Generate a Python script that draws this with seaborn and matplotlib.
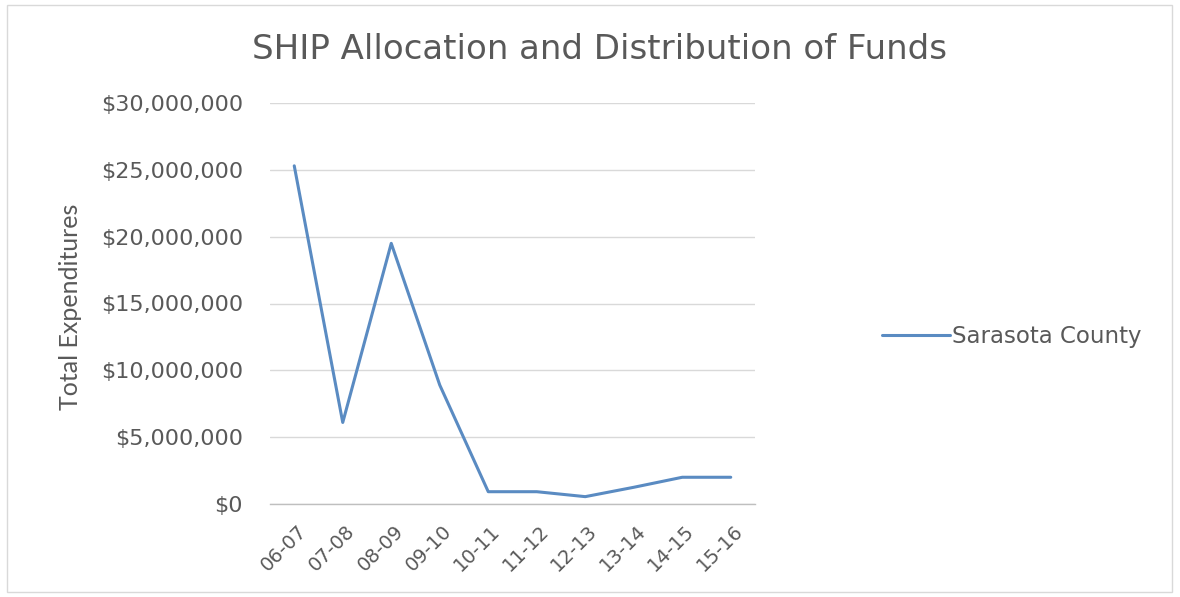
import matplotlib
matplotlib.use("Agg")
import matplotlib.pyplot as plt
import matplotlib.transforms as mtransforms
from matplotlib.patches import Rectangle
from matplotlib.ticker import FuncFormatter, MultipleLocator
import seaborn as sns
import pandas as pd

years = ["06-07", "07-08", "08-09", "09-10", "10-11", "11-12", "12-13", "13-14", "14-15", "15-16"]
sarasota = [25300000, 6100000, 19500000, 8900000, 920000, 920000, 550000, 1250000, 2000000, 2000000]
series_name = "Sarasota County"

df = pd.DataFrame({"Year": years, "Total": sarasota, "Series": series_name})

sns.set_theme(style="white")
plt.rcParams['font.family'] = ['DejaVu Sans']

grey_text = "#595959"
line_color = "#5A8BC2"

fig = plt.figure(figsize=(11.8, 5.97), dpi=100)
ax = fig.add_axes([270/1180, 93/597, 485/1180, 401/597])

sns.lineplot(data=df, x="Year", y="Total", hue="Series", palette=[line_color],
             linewidth=2.2, ax=ax, sort=False, legend=True)

ax.set_xlim(-0.5, len(years) - 0.5)
ax.set_ylim(0, 30000000)
ax.yaxis.set_major_locator(MultipleLocator(5000000))
ax.yaxis.set_major_formatter(FuncFormatter(lambda v, p: "${:,.0f}".format(v)))
ax.grid(axis="y", color="#D9D9D9", linewidth=1)
ax.set_axisbelow(True)
for s in ["top", "right", "left"]:
    ax.spines[s].set_visible(False)
ax.spines["bottom"].set_color("#BFBFBF")
ax.spines["bottom"].set_linewidth(1)

ax.tick_params(axis="y", length=0, pad=19.5, labelsize=16, labelcolor=grey_text)
ax.tick_params(axis="x", length=0, pad=0, labelsize=14, labelcolor=grey_text)
ax.set_xticks(range(len(years)))
ax.set_xticklabels(years, rotation=45, ha="right", va="center", rotation_mode="anchor")
offset = mtransforms.ScaledTranslation(9/100, -24/100, fig.dpi_scale_trans)
for lab in ax.get_xticklabels():
    lab.set_transform(lab.get_transform() + offset)

ax.set_xlabel("")
ax.set_ylabel("Total Expenditures", fontsize=18, color=grey_text, family=["Lato", "DejaVu Sans"])
ax.yaxis.set_label_coords((82 - 270) / 485, (504 - 306.5) / 401)

fig.text(599.5/1180, 1 - 59/597, "SHIP Allocation and Distribution of Funds",
         ha="center", va="baseline", fontsize=24.5, color=grey_text)

leg = ax.legend(loc="center left", bbox_to_anchor=(882/1180, 1 - 337/597),
                bbox_transform=fig.transFigure, frameon=False, borderpad=0,
                borderaxespad=0, fontsize=16.5, handlelength=2.95, handletextpad=0.1)
for t in leg.get_texts():
    t.set_color(grey_text)

fig.patches.append(Rectangle((7/1180, 5/597), 1165/1180, 587/597, transform=fig.transFigure,
                             fill=False, edgecolor="#D9D9D9", linewidth=1))

fig.savefig("out.png", dpi=100, facecolor="white")
